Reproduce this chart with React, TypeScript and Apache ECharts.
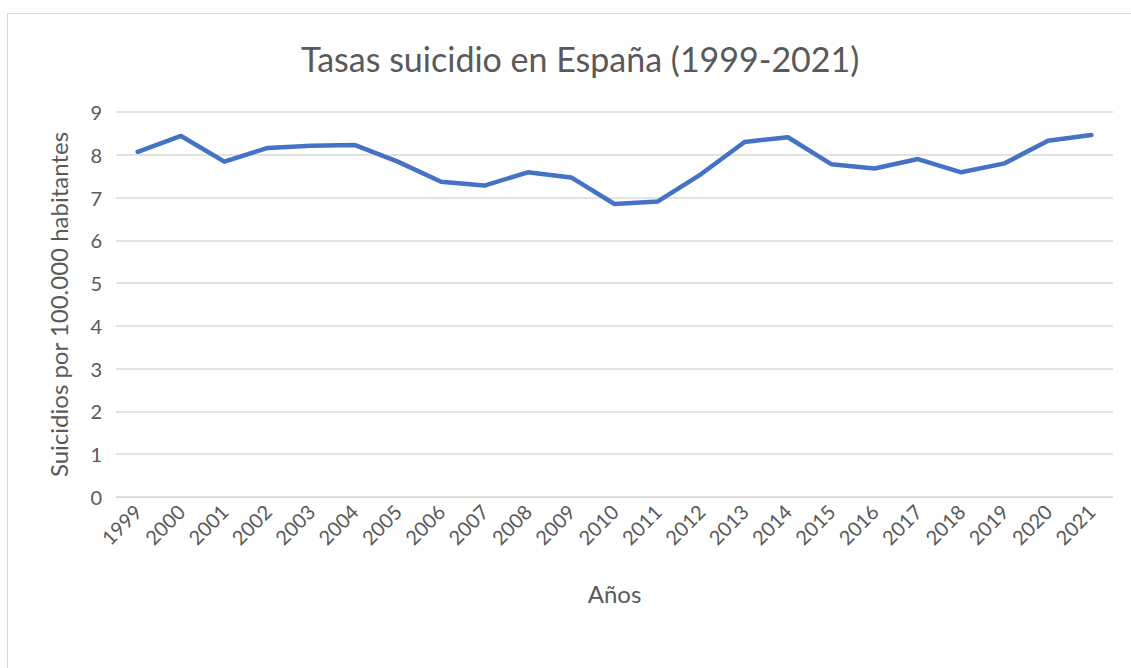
import React, { useEffect, useRef } from "react";
import * as echarts from "echarts";

const years = [
  "1999", "2000", "2001", "2002", "2003", "2004", "2005", "2006", "2007", "2008", "2009", "2010",
  "2011", "2012", "2013", "2014", "2015", "2016", "2017", "2018", "2019", "2020", "2021",
];
const rates = [
  8.07, 8.44, 7.84, 8.16, 8.21, 8.23, 7.84, 7.37, 7.28, 7.59, 7.47, 6.85,
  6.91, 7.55, 8.3, 8.41, 7.78, 7.68, 7.9, 7.59, 7.8, 8.33, 8.46,
];

const FONT = "Lato, 'Open Sans', sans-serif";
const TEXT = "#595959";

export default function App() {
  const ref = useRef<HTMLDivElement>(null);

  useEffect(() => {
    if (!ref.current) return;
    const chart = echarts.init(ref.current, null, { renderer: "svg" });
    chart.setOption({
      animation: false,
      backgroundColor: "#ffffff",
      title: {
        text: "Tasas suicidio en España (1999-2021)",
        left: 296,
        top: 36,
        textStyle: { fontFamily: FONT, fontSize: 34, fontWeight: "normal", color: TEXT },
      },
      graphic: [
        {
          type: "rect",
          shape: { x: 7.5, y: 13.5, width: 1200, height: 700 },
          style: { fill: "none", stroke: "#d9d9d9", lineWidth: 1 },
          silent: true,
        },
      ],
      grid: { left: 116, right: 18, top: 112, height: 385 },
      xAxis: {
        type: "category",
        data: years,
        boundaryGap: true,
        name: "Años",
        nameLocation: "middle",
        nameGap: 84,
        nameTextStyle: { fontFamily: FONT, fontSize: 24, color: TEXT },
        axisLine: { show: true, lineStyle: { color: "#d9d9d9", width: 1 } },
        axisTick: { show: false },
        axisLabel: {
          rotate: 45,
          interval: 0,
          margin: 11,
          fontFamily: FONT,
          fontSize: 20,
          color: TEXT,
        },
      },
      yAxis: {
        type: "value",
        min: 0,
        max: 9,
        interval: 1,
        name: "Suicidios por 100.000 habitantes",
        nameLocation: "middle",
        nameGap: 46,
        nameTextStyle: { fontFamily: FONT, fontSize: 24, color: TEXT },
        axisLine: { show: false },
        axisTick: { show: false },
        axisLabel: { margin: 14, fontFamily: FONT, fontSize: 20, color: TEXT },
        splitLine: { lineStyle: { color: "#d9d9d9", width: 1.5 } },
      },
      series: [
        {
          type: "line",
          data: rates,
          showSymbol: false,
          symbol: "none",
          lineStyle: { color: "#4472C4", width: 4.5, cap: "round", join: "round" },
          itemStyle: { color: "#4472C4" },
        },
      ],
    });
    return () => chart.dispose();
  }, []);

  return (
    <div
      ref={ref}
      style={{ position: "fixed", left: 0, top: 0, width: 1131, height: 668, background: "#fff" }}
    />
  );
}
